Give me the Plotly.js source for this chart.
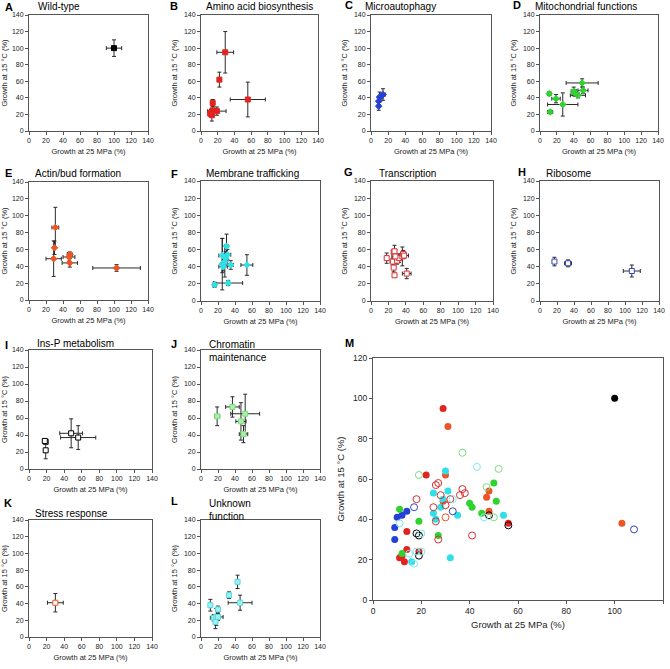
<!DOCTYPE html>
<html>
<head>
<meta charset="utf-8">
<script src="https://cdn.plot.ly/plotly-3.0.1.min.js"></script>
<style>
  html, body { margin: 0; padding: 0; background: #fff; }
  #myDiv { width: 670px; height: 669px; }
</style>
</head>
<body>
<div id="myDiv"></div>
<script>
// growth at 25 MPa (x) and at 15 °C (y), % of wild-type, with error bars
var wtX = [100], wtY = [100], wtEx = [9], wtEy = [10];

var aaX = [29, 22, 56, 14, 19, 14, 12, 13, 11];
var aaY = [95, 62, 38, 34, 24, 25, 22, 19, 21];
var aaEx = [10, 2, 21, 2, 11, 3, 2, 2, 2];
var aaEy = [25, 9, 21, 4, 5, 5, 4, 7, 3];

var maX = [9, 10, 14, 12, 9];
var maY = [30, 41, 44, 42, 36];
var maEx = [1, 1, 3, 2, 1];
var maEy = [5, 6, 7, 3, 4];

var mtX = [50, 51, 40, 41, 45, 11, 19, 27, 12];
var mtY = [58, 49, 48, 46, 43, 45, 39, 32, 23];
var mtEx = [19, 6, 3, 3, 9, 2, 5, 18, 3];
var mtEy = [5, 4, 5, 4, 3, 2, 5, 14, 2];

var abX = [31, 30, 29, 48, 47, 48, 103];
var abY = [86, 62, 49, 54, 51, 44, 38];
var abEx = [4, 1, 9, 3, 7, 9, 28];
var abEy = [24, 8, 21, 3, 5, 5, 4];

var mbX = [30, 25, 31, 29, 28, 26, 35, 54, 32, 16, 25];
var mbY = [64, 53, 54, 50, 46, 40, 42, 42, 21, 19, 43];
var mbEx = [2, 4, 4, 2, 3, 5, 3, 7, 17, 2, 2];
var mbEy = [14, 20, 6, 8, 18, 5, 5, 12, 3, 3, 30];

var trX = [18, 26, 27, 25, 26, 27, 30, 32, 36, 37, 41, 38, 28];
var trY = [50, 57, 58, 46, 39, 30, 47, 50, 52, 55, 32, 53, 52];
var trEx = [1, 2, 2, 3, 1, 1, 3, 3, 3, 3, 5, 5, 4];
var trEy = [6, 3, 7, 4, 5, 1, 4, 5, 11, 4, 6, 3, 8];

var rbX = [17, 33, 108];
var rbY = [46, 44, 35];
var rbEx = [1, 4, 10];
var rbEy = [5, 4, 7];

var ipX = [19, 19, 48, 56, 18];
var ipY = [32, 22, 42, 37, 33];
var ipEx = [1, 1, 13, 20, 1];
var ipEy = [2, 10, 17, 14, 2];

var chX = [19, 37, 52, 47, 50];
var chY = [62, 73, 65, 56, 41];
var chEx = [3, 8, 17, 6, 5];
var chEy = [11, 12, 23, 22, 10];

var srX = [30], srY = [41], srEx = [9], srEy = [11];

var ukX = [11, 20, 33, 43, 46, 15, 18, 20, 17];
var ukY = [38, 33, 50, 66, 41, 23, 24, 24, 18];
var ukEx = [1, 2, 1, 2, 14, 4, 3, 6, 2];
var ukEy = [7, 4, 4, 8, 9, 4, 10, 4, 8];

var panelLetters = ['A', 'B', 'C', 'D', 'E', 'F', 'G', 'H', 'I', 'J', 'K', 'L', 'M'];
var panelTitles = ['Wild-type', 'Amino acid biosynthesis', 'Microautophagy', 'Mitochondrial functions',
  'Actin/bud formation', 'Membrane trafficking', 'Transcription', 'Ribosome',
  'Ins-P metabolism', 'Chromatin<br>maintenance', 'Stress response', 'Unknown<br>function', ''];

var W = 670, H = 669;
var FONT = 'Liberation Sans, Arial, sans-serif';

// plot boxes in pixels: x0, x1, y0, y1
var boxes = [
  [29, 148, 15, 131], [201, 318, 15, 131], [371, 491, 15, 131], [540, 658, 15, 131],
  [29, 148, 182, 300], [201, 320, 181, 301], [371, 493, 181, 301], [540, 659, 181, 301],
  [29, 152, 350, 469], [201, 320, 350, 469],
  [29, 152, 520, 637], [201, 320, 520, 637],
  [373, 663, 358, 600]
];
// letter and title positions in pixels
var letterPos = [[3, 7], [168, 6], [343, 5], [511, 5], [3, 173], [169, 174], [342, 172], [516, 172],
  [3, 345], [169, 344], [2, 503], [169, 501], [343, 343]];
var titlePos = [[36, 7], [204, 6], [363, 7], [533, 6], [33, 173], [204, 173], [377, 173], [544, 173],
  [35, 343], [207, 351], [33, 513], [207, 510], [0, 0]];

var groups = [
  {x: wtX, y: wtY, ex: wtEx, ey: wtEy, c: '#000000', mc: '#000000', mfill: '#000000', mopen: false, sym: 'square'},
  {x: aaX, y: aaY, ex: aaEx, ey: aaEy, c: '#e3231f', mc: '#e3231f', mfill: '#e3231f', mopen: false, sym: 'square'},
  {x: maX, y: maY, ex: maEx, ey: maEy, c: '#2540d6', mc: '#2540d6', mfill: '#2540d6', mopen: false, sym: 'diamond'},
  {x: mtX, y: mtY, ex: mtEx, ey: mtEy, c: '#2fd22f', mc: '#2fd22f', mfill: '#2fd22f', mopen: false, sym: 'diamond'},
  {x: abX, y: abY, ex: abEx, ey: abEy, c: '#ec5526', mc: '#ec5526', mfill: '#ec5526', mopen: false, sym: 'diamond'},
  {x: mbX, y: mbY, ex: mbEx, ey: mbEy, c: '#2fe0e6', mc: '#2fe0e6', mfill: '#2fe0e6', mopen: false, sym: 'diamond'},
  {x: trX, y: trY, ex: trEx, ey: trEy, c: '#d83030', mc: '#d83030', mfill: '#ffffff', mopen: true, sym: 'square'},
  {x: rbX, y: rbY, ex: rbEx, ey: rbEy, c: '#3546b8', mc: '#3546b8', mfill: '#ffffff', mopen: true, sym: 'square'},
  {x: ipX, y: ipY, ex: ipEx, ey: ipEy, c: '#000000', mc: '#000000', mfill: '#ffffff', mopen: true, sym: 'square'},
  {x: chX, y: chY, ex: chEx, ey: chEy, c: '#7edc7e', mc: '#7edc7e', mfill: '#a8f0a8', mopen: true, sym: 'square'},
  {x: srX, y: srY, ex: srEx, ey: srEy, c: '#ec5526', mc: '#ec5526', mfill: '#ffffff', mopen: true, sym: 'square'},
  {x: ukX, y: ukY, ex: ukEx, ey: ukEy, c: '#7eeaee', mc: '#5ad8de', mfill: '#9ef2f4', mopen: true, sym: 'square'}
];

var data = [];
var layout = {
  width: W, height: H,
  margin: {l: 0, r: 0, t: 0, b: 0},
  paper_bgcolor: '#ffffff', plot_bgcolor: '#ffffff',
  showlegend: false,
  font: {family: FONT, color: '#222'},
  annotations: []
};

function axisName(i, letter) { return letter + 'axis' + (i === 0 ? '' : (i + 1)); }
function ref(i, letter) { return letter + (i === 0 ? '' : (i + 1)); }

for (var i = 0; i < boxes.length; i++) {
  var b = boxes[i];
  var big = i === 12;
  var common = {
    range: big ? [0, 120] : [0, 140], dtick: 20, tick0: 0,
    ticks: 'outside', ticklen: 3, tickwidth: 1, tickcolor: '#555',
    showline: true, mirror: true, linecolor: '#555', linewidth: 1,
    showgrid: false, zeroline: false, fixedrange: true,
    tickfont: {size: big ? 8.5 : 7, family: FONT, color: '#222'}
  };
  var xa = Object.assign({}, common, {
    domain: [b[0] / W, b[1] / W], anchor: ref(i, 'y'),
    title: {text: 'Growth at 25 MPa (%)', font: {size: big ? 9.5 : 7.5, family: FONT, color: '#222'}, standoff: big ? 6 : 5}
  });
  var ya = Object.assign({}, common, {
    domain: [1 - b[3] / H, 1 - b[2] / H], anchor: ref(i, 'x'),
    title: {text: 'Growth at 15 °C (%)', font: {size: big ? 9.5 : 7.5, family: FONT, color: '#222'}, standoff: big ? 6 : 5}
  });
  layout[axisName(i, 'x')] = xa;
  layout[axisName(i, 'y')] = ya;

  layout.annotations.push({
    xref: 'paper', yref: 'paper', x: letterPos[i][0] / W, y: 1 - letterPos[i][1] / H,
    xanchor: 'left', yanchor: 'middle', showarrow: false,
    text: '<b>' + panelLetters[i] + '</b>', font: {size: 11, family: FONT, color: '#000'}
  });
  if (panelTitles[i]) {
    layout.annotations.push({
      xref: 'paper', yref: 'paper', x: titlePos[i][0] / W, y: 1 - titlePos[i][1] / H,
      xanchor: 'left', yanchor: 'middle', align: 'left', showarrow: false,
      text: panelTitles[i], font: {size: 10, family: FONT, color: '#000'}
    });
  }
}

// small panels with error bars
groups.forEach(function (g, i) {
  data.push({
    type: 'scatter', mode: 'markers',
    x: g.x, y: g.y,
    xaxis: ref(i, 'x'), yaxis: ref(i, 'y'),
    error_x: {type: 'data', array: g.ex, color: '#2a2a2a', thickness: 1, width: 2},
    error_y: {type: 'data', array: g.ey, color: '#2a2a2a', thickness: 1, width: 2},
    marker: {symbol: g.sym, size: 5, color: g.mfill, line: {color: g.mc, width: 1}},
    hoverinfo: 'x+y'
  });
});

// panel M: every group together
groups.forEach(function (g) {
  data.push({
    type: 'scatter', mode: 'markers',
    x: g.x, y: g.y,
    xaxis: 'x13', yaxis: 'y13',
    marker: {
      symbol: 'circle', size: 7,
      color: g.mopen ? 'rgba(255,255,255,0)' : g.c,
      line: {color: g.c, width: g.mopen ? 1 : 0}
    },
    hoverinfo: 'x+y'
  });
});

Plotly.newPlot('myDiv', data, layout, {displayModeBar: false, staticPlot: true});
</script>
</body>
</html>
